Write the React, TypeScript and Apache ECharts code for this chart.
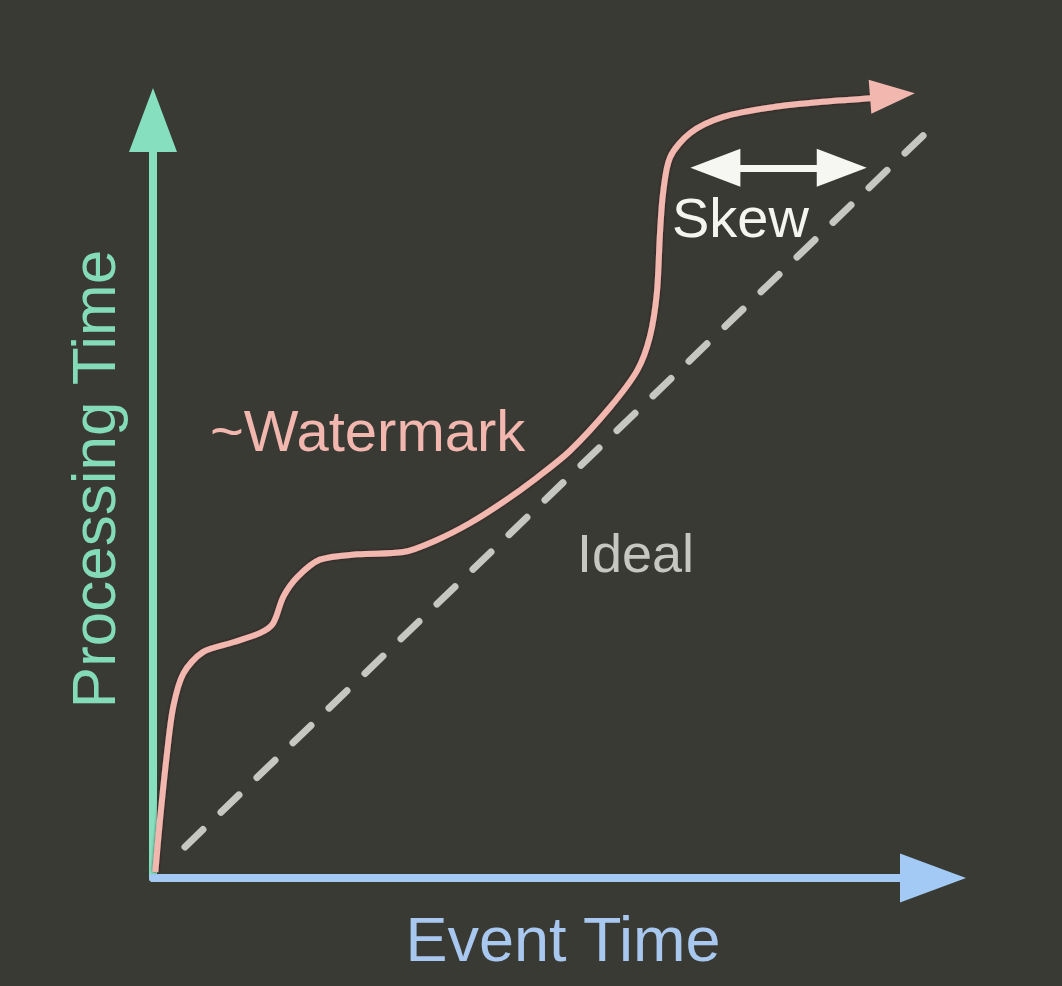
import * as echarts from "echarts";
import { useEffect, useRef } from "react";

// 坐标范围（事件时间 / 处理时间，0-100 的示意单位）
const axisMin = 0;
const axisMax = 100;

// ~Watermark 曲线：[事件时间, 处理时间]
const watermarkPoints: [number, number][] = [
  [0.3, 0.8], [0.9, 7.7], [1.8, 16.5], [2.6, 22.6], [3.9, 27.0], [6.4, 29.8],
  [10.3, 31.1], [13.7, 32.3], [15.4, 33.6], [16.7, 37.1], [18.5, 39.7], [21.4, 42.0],
  [26.2, 42.7], [32.1, 43.0], [36.4, 44.6], [40.6, 46.8], [44.9, 49.6], [49.2, 52.8],
  [53.5, 56.4], [58.6, 62.1], [62.1, 67.0], [63.7, 71.4], [64.6, 77.2], [65.0, 85.1],
  [65.4, 90.4], [66.3, 95.1], [68.9, 98.3], [73.1, 100.4], [79.5, 101.7], [85.9, 102.4],
  [92.6, 102.9],
];
// 曲线末端箭头的位置
const watermarkHead: [number, number] = [94.8, 103.3];

// Ideal 虚线
const idealPoints: [number, number][] = [[4.1, 4.1], [100.5, 99.7]];

// Skew 双向箭头
const skewFrom: [number, number] = [72.1, 93.7];
const skewTo: [number, number] = [88.3, 93.7];

const FONT = '"Liberation Sans", Arial, sans-serif';
const BG = "#3a3a35";
const PINK = "#f2b7af";
const TEAL = "#86e0bf";
const BLUE = "#a2caf4";
const GREY = "#c6c8c0";

export default function App() {
  const chartRef = useRef<HTMLDivElement | null>(null);

  useEffect(() => {
    if (!chartRef.current) return;
    const chart = echarts.init(chartRef.current, null, { renderer: "svg" });

    chart.setOption({
      animation: false,
      backgroundColor: BG,
      grid: { left: 153, right: 129, top: 120, bottom: 108, containLabel: false },
      xAxis: {
        type: "value",
        min: axisMin,
        max: axisMax,
        name: "Event Time",
        nameLocation: "middle",
        nameGap: 29,
        nameTextStyle: { color: "#a9c8ef", fontSize: 63, fontFamily: FONT, padding: [0, 0, 0, 40] },
        axisLine: {
          onZero: false,
          symbol: ["none", "triangle"],
          symbolSize: [49, 66],
          lineStyle: { color: BLUE, width: 8 },
        },
        axisTick: { show: false },
        axisLabel: { show: false },
        splitLine: { show: false },
      },
      yAxis: {
        type: "value",
        min: axisMin,
        max: axisMax,
        name: "Processing Time",
        nameLocation: "middle",
        nameGap: 29,
        nameTextStyle: { color: "#84dbb8", fontSize: 62, fontFamily: FONT, padding: [0, 0, 0, 40] },
        axisLine: {
          onZero: false,
          symbol: ["none", "triangle"],
          symbolSize: [48, 64],
          lineStyle: { color: TEAL, width: 8 },
        },
        axisTick: { show: false },
        axisLabel: { show: false },
        splitLine: { show: false },
      },
      series: [
        {
          name: "Ideal",
          type: "line",
          data: idealPoints,
          symbol: "none",
          clip: false,
          silent: true,
          lineStyle: { color: GREY, width: 7, type: [25, 25], cap: "round" },
          markLine: {
            silent: true,
            symbol: ["triangle", "triangle"],
            symbolSize: [38, 50],
            label: { show: false },
            lineStyle: { color: "#f6f6f2", width: 7, type: "solid" },
            data: [[{ coord: skewFrom }, { coord: skewTo }]],
          },
        },
        {
          name: "~Watermark",
          type: "line",
          data: watermarkPoints,
          symbol: "none",
          smooth: 0.3,
          clip: false,
          silent: true,
          lineStyle: {
            color: PINK,
            width: 6,
            shadowColor: "rgba(40,0,0,0.7)",
            shadowBlur: 3,
          },
        },
        {
          name: "head",
          type: "scatter",
          z: 5,
          data: [watermarkHead],
          symbol: "triangle",
          symbolSize: [34, 45],
          symbolRotate: -85.5,
          clip: false,
          silent: true,
          itemStyle: { color: PINK, opacity: 1 },
        },
      ],
      graphic: [
        {
          type: "text",
          x: 210,
          y: 430,
          silent: true,
          style: { text: "~Watermark", fill: PINK, font: `58px ${FONT}`, textVerticalAlign: "middle" },
        },
        {
          type: "text",
          x: 577,
          y: 553,
          silent: true,
          style: { text: "Ideal", fill: GREY, font: `54px ${FONT}`, textVerticalAlign: "middle" },
        },
        {
          type: "text",
          x: 672,
          y: 217,
          silent: true,
          style: { text: "Skew", fill: "#f4f4f0", font: `56px ${FONT}`, textVerticalAlign: "middle" },
        },
      ],
    });

    return () => chart.dispose();
  }, []);

  return (
    <div
      ref={chartRef}
      style={{ position: "fixed", left: 0, top: 0, width: 1062, height: 986, background: BG }}
    />
  );
}
